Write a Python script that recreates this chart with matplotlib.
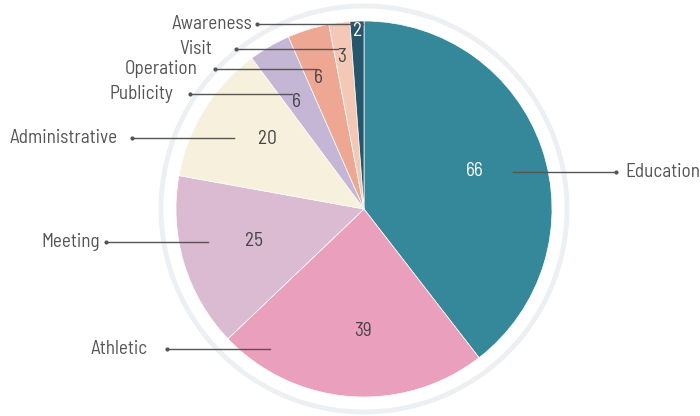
import numpy as np
import matplotlib.pyplot as plt
from matplotlib.patches import Circle

plt.rcParams["font.family"] = ["Barlow Semi Condensed", "Saira Semi Condensed",
                               "Liberation Sans Narrow", "DejaVu Sans"]

categories = ["Education", "Athletic", "Meeting", "Administrative",
              "Publicity", "Operation", "Visit", "Awareness"]
values = [66, 39, 25, 20, 6, 6, 3, 2]
colors = ["#35879a", "#eaa0bc", "#dbbbd1", "#f7f0dc",
          "#c4b6d4", "#eda793", "#f3c8b6", "#26566b"]
value_colors = ["white", "#444444", "#444444", "#444444",
                "#444444", "#444444", "#444444", "white"]

# value label placement: fraction of radius and angular nudge (deg)
label_frac = [0.62, 0.65, 0.61, 0.633, 0.675, 0.74, 0.82, 0.95]
label_nudge = [0, 3.8, -0.6, -4, 2, 2, 1, 0]
# leader lines in pixel space: (x_start, x_end, y) and where the name text anchors
leaders = [(513, 616, 172), (270, 167, 349), (208, 106, 242), (234, 132, 138),
           (292, 190, 94), (316, 215, 69), (338, 236, 49), (363, 257, 24)]
text_x = [625, 148, 100, 118, 173, 198, 212, 252]

W, H = 700, 416
fig = plt.figure(figsize=(7, 4.16), dpi=100)
ax = fig.add_axes([0, 0, 1, 1])

cx, cy, r = 364, H - 209, 188

ax.add_patch(Circle((cx, cy), 203, fill=False, ec="#edf0f3", lw=3.5))

wedges, _ = ax.pie(values, colors=colors, startangle=90, counterclock=False,
                   center=(cx, cy), radius=r, frame=True,
                   wedgeprops=dict(ec="white", lw=0.5))
ax.set_xlim(0, W)
ax.set_ylim(0, H)
ax.set_aspect("equal")
ax.axis("off")

for w, v, f, d, c in zip(wedges, values, label_frac, label_nudge, value_colors):
    mid = np.deg2rad((w.theta1 + w.theta2) / 2 + d)
    x = cx + f * r * np.cos(mid)
    y = cy + f * r * np.sin(mid)
    ax.text(x, y, str(v), ha="center", va="center", fontsize=13.8, color=c)

for name, (x0, x1, yp), tx in zip(categories, leaders, text_x):
    y = H - yp
    ax.plot([x0, x1], [y, y], color="#555555", lw=1)
    ax.plot([x1], [y], "o", color="#555555", ms=2)
    ha = "left" if x1 > x0 else "right"
    ax.text(tx, y, name, ha=ha, va="center", fontsize=13.8, color="#555555")

fig.savefig("out.png", dpi=100)
